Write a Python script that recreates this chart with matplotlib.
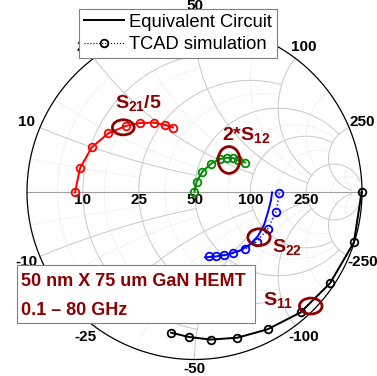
import numpy as np
import matplotlib
matplotlib.use('Agg')
import matplotlib.pyplot as plt
from matplotlib.patches import Ellipse, Rectangle
from matplotlib.lines import Line2D

plt.rcParams['font.family'] = ['Liberation Sans', 'DejaVu Sans']
plt.rcParams['mathtext.fontset'] = 'custom'
plt.rcParams['mathtext.rm'] = 'Liberation Sans'
plt.rcParams['mathtext.bf'] = 'Liberation Sans:bold'
plt.rcParams['mathtext.it'] = 'Liberation Sans:italic'

# ---------------- data (reflection coefficient, real / imag) ----------------
# TCAD simulation (markers)
s21_tcad_re = [-0.713, -0.684, -0.614, -0.515, -0.411, -0.325, -0.242, -0.176, -0.128]
s21_tcad_im = [-0.002, 0.141, 0.266, 0.350, 0.394, 0.412, 0.414, 0.400, 0.385]
s12_tcad_re = [0.000, 0.013, 0.047, 0.099, 0.152, 0.197, 0.230, 0.257, 0.301]
s12_tcad_im = [0.002, 0.061, 0.121, 0.169, 0.197, 0.205, 0.203, 0.191, 0.176]
s22_tcad_re = [0.506, 0.487, 0.437, 0.371, 0.299, 0.232, 0.178, 0.130, 0.088]
s22_tcad_im = [-0.008, -0.118, -0.221, -0.297, -0.343, -0.366, -0.378, -0.383, -0.384]
s11_tcad_re = [0.998, 0.952, 0.809, 0.633, 0.436, 0.256, 0.097, -0.031, -0.140]
s11_tcad_im = [0.002, -0.300, -0.545, -0.719, -0.820, -0.870, -0.881, -0.866, -0.840]

# Equivalent circuit (lines)
s21_ec_re = [-0.713, -0.684, -0.614, -0.515, -0.411, -0.325, -0.242, -0.176, -0.128]
s21_ec_im = [-0.002, 0.141, 0.266, 0.350, 0.394, 0.412, 0.414, 0.400, 0.385]
s12_ec_re = [0.000, 0.013, 0.047, 0.099, 0.152, 0.197, 0.230, 0.257, 0.301]
s12_ec_im = [0.002, 0.061, 0.121, 0.169, 0.197, 0.205, 0.203, 0.191, 0.176]
s22_ec_re = [0.063, 0.128, 0.200, 0.272, 0.331, 0.379, 0.415, 0.439, 0.457, 0.463]
s22_ec_im = [-0.390, -0.385, -0.373, -0.349, -0.313, -0.263, -0.197, -0.119, -0.048, -0.003]
s11_ec_re = [0.998, 0.952, 0.809, 0.633, 0.436, 0.256, 0.097, -0.031, -0.140]
s11_ec_im = [0.002, -0.300, -0.545, -0.719, -0.820, -0.870, -0.881, -0.866, -0.840]

# grid values (normalized) and tick labels (ohms)
r_major = [0.2, 0.5, 1, 2, 5]
r_major_lim = [1, 2, 5, 5, 30]
r_minor = [0.1, 0.3, 0.7, 1.5, 3, 10]
r_minor_lim = [0.5, 1, 2, 5, 5, 30]
tick_vals = [0.2, 0.5, 1, 2, 5]
tick_labels = ['10', '25', '50', '100', '250']

DARKRED = '#8B0000'

fig = plt.figure(figsize=(3.77, 3.76), dpi=100)
ax = fig.add_axes([0, 0, 1, 1])
S = 167.5
ax.set_xlim(-194.5 / S, (377 - 194.5) / S)
ax.set_ylim((192 - 376) / S, 192 / S)
ax.axis('off')


def gam(z):
    return (z - 1) / (z + 1)


def r_circle(r, xmax, **kw):
    t = np.linspace(-np.arctan(xmax), np.arctan(xmax), 600)
    g = gam(r + 1j * np.tan(t))
    ax.plot(g.real, g.imag, **kw)


def x_arc(x, rmax, **kw):
    t = np.linspace(0, np.arctan(rmax), 600)
    g = gam(np.tan(t) + 1j * x)
    ax.plot(g.real, g.imag, **kw)


minor_kw = dict(color='#dadada', lw=0.6, ls=(0, (1, 1.5)), zorder=1)
major_kw = dict(color='#c8c8c8', lw=0.7, zorder=1.5)
for r, lim in zip(r_minor, r_minor_lim):
    r_circle(r, lim, **minor_kw)
    x_arc(r, lim, **minor_kw)
    x_arc(-r, lim, **minor_kw)
for r, lim in zip(r_major, r_major_lim):
    r_circle(r, lim, **major_kw)
    x_arc(r, lim, **major_kw)
    x_arc(-r, lim, **major_kw)

ax.plot([-1, 1], [0, 0], color='#a0a0a0', lw=0.8, zorder=1.6)
th = np.linspace(0, 2 * np.pi, 800)
ax.plot(np.cos(th), np.sin(th), color='black', lw=0.9, zorder=2)

# tick labels
tfont = dict(fontsize=11, fontweight='bold', ha='center', va='center', zorder=3)
for v, lab in zip(tick_vals, tick_labels):
    g = gam(v)
    ax.text(g, -0.05, lab, **tfont)
    ang = np.pi - 2 * np.arctan(v)
    R = 1.085
    top_R = 1.11 if v == 1 else R
    bot_R = 1.058 if v == 1 else R
    ax.text(top_R * np.cos(ang), top_R * np.sin(ang), lab, **tfont)
    ax.text(bot_R * np.cos(ang), -bot_R * np.sin(ang), '-' + lab, **tfont)

# data
series = [
    (s21_ec_re, s21_ec_im, s21_tcad_re, s21_tcad_im, 'red'),
    (s12_ec_re, s12_ec_im, s12_tcad_re, s12_tcad_im, '#008c00'),
    (s22_ec_re, s22_ec_im, s22_tcad_re, s22_tcad_im, 'blue'),
    (s11_ec_re, s11_ec_im, s11_tcad_re, s11_tcad_im, 'black'),
]
for er, ei, tr, ti, c in series:
    ax.plot(tr, ti, ls=':', lw=1.0, color=c, marker='o', ms=5.5, mfc='none',
            mec=c, mew=1.3, zorder=4)
    ax.plot(er, ei, ls='-', lw=1.4, color=c, zorder=5)

# annotation ellipses
ell = [(-0.425, 0.386, 0.13, 0.09), (0.206, 0.191, 0.13, 0.16),
       (0.385, -0.270, 0.133, 0.10), (0.694, -0.681, 0.135, 0.095)]
for cx, cy, w, h in ell:
    ax.add_patch(Ellipse((cx, cy), w, h, fill=False, ec=DARKRED, lw=2.0, zorder=6))

lfont = dict(fontsize=14, color=DARKRED, ha='left', va='baseline', zorder=7)
ax.text(-0.475, 0.50, r'$\mathbf{S_{21}/5}$', **lfont)
ax.text(0.164, 0.31, r'$\mathbf{2{*}S_{12}}$', **lfont)
ax.text(0.463, -0.358, r'$\mathbf{S_{22}}$', **lfont)
ax.text(0.409, -0.675, r'$\mathbf{S_{11}}$', **lfont)

# info box
ax.add_patch(Rectangle((-1.06, -0.782), 1.421, 0.346, fc='white', ec='#808080',
                       lw=0.8, zorder=8))
bfont = dict(fontsize=13, fontweight='bold', color=DARKRED, ha='left',
             va='center', zorder=9)
ax.text(-1.036, -0.537, '50 nm X 75 um GaN HEMT', **bfont)
ax.text(-1.036, -0.710, '0.1 \u2013 80 GHz', **bfont)

handles = [Line2D([], [], color='black', lw=1.4),
           Line2D([], [], color='black', lw=0.8, ls=':', marker='o', ms=5.5,
                  mfc='none', mew=1.3)]
leg = ax.legend(handles, ['Equivalent Circuit', 'TCAD simulation'],
                loc='upper left', bbox_to_anchor=(79 / 377, 1 - 9 / 376),
                borderaxespad=0, fontsize=13.2, frameon=True, fancybox=False,
                framealpha=1, edgecolor='#808080', handlelength=2.2,
                handletextpad=0.3, borderpad=0.25, labelspacing=0.3,
                numpoints=1)
leg.get_frame().set_linewidth(0.8)
leg.set_zorder(10)

fig.savefig('out.png', dpi=100)
